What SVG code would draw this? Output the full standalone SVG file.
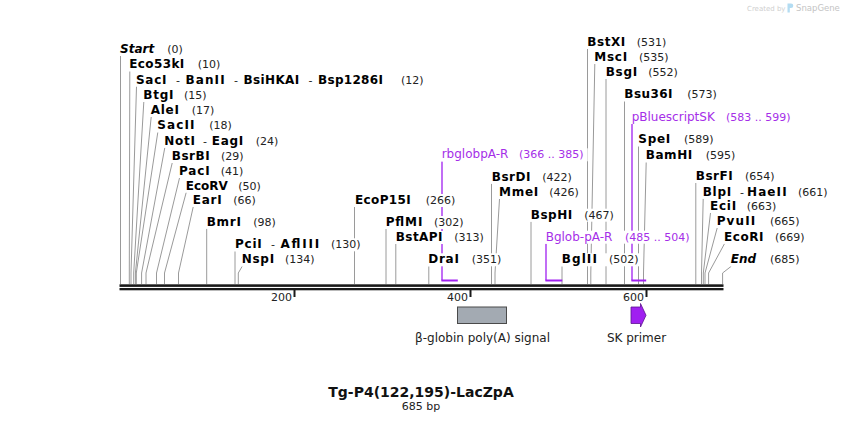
<svg xmlns="http://www.w3.org/2000/svg" width="844" height="423" viewBox="0 0 844 423">
<style>
text { font-family: "DejaVu Sans", Verdana, sans-serif; }
.n { font-weight: bold; font-size: 12px; fill: #000; }
.it { font-style: italic; }
.num { font-weight: normal; font-size: 11px; fill: #222; }
.sep { font-weight: normal; font-size: 11px; fill: #222; }
.p { font-weight: normal; font-size: 12px; fill: #a52ee8; }
.pn { font-weight: normal; font-size: 11px; fill: #a52ee8; }
.bg { fill: #fff; }
.ln { fill: none; stroke: #9a9a9a; stroke-width: 1; }
.pl { fill: none; stroke: #a020f0; stroke-width: 1.3; }
.ph { fill: none; stroke: #a020f0; stroke-width: 2; }
.tk { font-size: 11px; fill: #222; text-anchor: end; }
.fl { font-size: 12px; fill: #222; text-anchor: middle; }
</style>
<rect width="844" height="423" fill="#fff"/>
<g id="watermark">
<text x="747" y="10.5" style="font-size:7px;fill:#cfcfcf">Created by</text>
<path d="M787.5,3.5 h3.5 a2.3,2.3 0 0 1 0,4.6 h-1.2 v4.5 h-2.3 z" fill="#b3dcf2"/>
<text x="796" y="11" style="font-size:8.5px;fill:#c4c4c4">SnapGene</text>
</g>
<g id="connectors">
<polyline class="ln" points="120.5,284 120.5,56"/>
<polyline class="ln" points="129.3,284 129.3,273 129.8,71.3"/>
<polyline class="ln" points="131,284 131,273 136.5,86.5"/>
<polyline class="ln" points="133.7,284 133.7,273 143.8,102"/>
<polyline class="ln" points="135.4,284 135.4,273 151.2,117"/>
<polyline class="ln" points="136.3,284 136.3,273 157.8,132.3"/>
<polyline class="ln" points="141.6,284 141.6,273 164.8,147.7"/>
<polyline class="ln" points="146,284 146,273 172.2,163"/>
<polyline class="ln" points="156.5,284 156.5,273 179.5,178"/>
<polyline class="ln" points="164.5,284 164.5,273 186.2,192.5"/>
<polyline class="ln" points="178.5,284 178.5,273 193.2,207"/>
<polyline class="ln" points="206.7,284 206.7,228.7"/>
<polyline class="ln" points="235,284 235,251.3"/>
<polyline class="ln" points="238.3,284 238.3,273 242.2,266.3"/>
<polyline class="ln" points="354.5,284 354.5,207"/>
<polyline class="ln" points="386,284 386,229"/>
<polyline class="ln" points="395.8,284 395.8,244"/>
<polyline class="ln" points="428.8,284 428.8,266.3"/>
<polyline class="ln" points="491.5,284 491.5,183.7"/>
<polyline class="ln" points="495,284 495,273 499.5,199"/>
<polyline class="ln" points="531,284 531,221.7"/>
<polyline class="ln" points="562,284 562,266.3"/>
<polyline class="ln" points="587.5,284 587.5,49"/>
<polyline class="ln" points="590.8,284 590.8,273 594.8,64"/>
<polyline class="ln" points="606,284 606,79"/>
<polyline class="ln" points="624.5,284 624.5,101.3"/>
<polyline class="ln" points="638.5,284 638.5,146.3"/>
<polyline class="ln" points="643.5,284 643.5,273 646.2,162.3"/>
<polyline class="ln" points="695.8,284 695.8,183"/>
<polyline class="ln" points="701.5,284 701.5,273 703.2,198.7"/>
<polyline class="ln" points="703.3,284 703.3,273 710.5,213"/>
<polyline class="ln" points="705,284 705,273 717.2,228"/>
<polyline class="ln" points="708.6,284 708.6,273 724.5,243.7"/>
<polyline class="ln" points="722.6,284 722.6,273 731.2,266.3"/>
<polyline class="pl" points="442,161.5 442,280.5"/>
<polyline class="ph" points="441.4,280.5 457.8,280.5"/>
<polyline class="pl" points="546,243.7 546,280.5"/>
<polyline class="ph" points="545.4,280.5 562.3,280.5"/>
<polyline class="pl" points="632,124 632,280.5"/>
<polyline class="ph" points="631.4,280.5 646.2,280.5"/>
</g>
<g id="backbone">
<rect x="119.5" y="284.3" width="604" height="2.6" fill="#1a1a1a"/>
<rect x="119.5" y="288" width="604" height="2.3" fill="#1a1a1a"/>
<rect x="293.5" y="289" width="2" height="8" fill="#1a1a1a"/>
<rect x="469.5" y="289" width="2" height="8" fill="#1a1a1a"/>
<rect x="645.5" y="289" width="2" height="8" fill="#1a1a1a"/>
<text class="tk" x="292" y="301">200</text>
<text class="tk" x="468" y="301">400</text>
<text class="tk" x="644" y="301">600</text>
</g>
<g id="site-Start"><rect class="bg" x="119" y="43" width="67" height="13"/><text class="n it" x="120" y="53">Start</text><text class="num" x="167.3" y="53">(0)</text></g>
<g id="site-Eco53kI"><rect class="bg" x="128.3" y="58.3" width="95" height="13"/><text class="n" x="129.3" y="68.3" textLength="54.9" lengthAdjust="spacing">Eco53kI</text><text class="num" x="197.7" y="68.3">(10)</text></g>
<g id="site-SacI"><rect class="bg" x="135" y="73.5" width="292" height="13"/>
<text class="n" x="136" y="83.5" textLength="30.5" lengthAdjust="spacing">SacI</text>
<text class="sep" x="176" y="83.5">-</text>
<text class="n" x="185.5" y="83.5" textLength="39.1" lengthAdjust="spacing">BanII</text>
<text class="sep" x="234" y="83.5">-</text>
<text class="n" x="243.5" y="83.5" textLength="55.7" lengthAdjust="spacing">BsiHKAI</text>
<text class="sep" x="308.5" y="83.5">-</text>
<text class="n" x="318" y="83.5" textLength="64.9" lengthAdjust="spacing">Bsp1286I</text>
<text class="num" x="401" y="83.5">(12)</text></g>
<g id="site-BtgI"><rect class="bg" x="142.3" y="89" width="68" height="13"/><text class="n" x="143.3" y="99" textLength="30.1" lengthAdjust="spacing">BtgI</text><text class="num" x="184" y="99">(15)</text></g>
<g id="site-AleI"><rect class="bg" x="149.7" y="104" width="68" height="13"/><text class="n" x="150.7" y="114" textLength="28.2" lengthAdjust="spacing">AleI</text><text class="num" x="191.7" y="114">(17)</text></g>
<g id="site-SacII"><rect class="bg" x="156.3" y="119.3" width="79" height="13"/><text class="n" x="157.3" y="129.3" textLength="37.2" lengthAdjust="spacing">SacII</text><text class="num" x="209.3" y="129.3">(18)</text></g>
<g id="site-NotI"><rect class="bg" x="163.3" y="134.7" width="118" height="13"/>
<text class="n" x="164.3" y="144.7" textLength="30.7" lengthAdjust="spacing">NotI</text>
<text class="sep" x="203" y="144.7">-</text>
<text class="n" x="211.7" y="144.7" textLength="31.6" lengthAdjust="spacing">EagI</text>
<text class="num" x="255.7" y="144.7">(24)</text></g>
<g id="site-BsrBI"><rect class="bg" x="170.7" y="150" width="76" height="13"/><text class="n" x="171.7" y="160" textLength="38" lengthAdjust="spacing">BsrBI</text><text class="num" x="221" y="160">(29)</text></g>
<g id="site-PacI"><rect class="bg" x="178" y="165" width="68" height="13"/><text class="n" x="179" y="175" textLength="30.7" lengthAdjust="spacing">PacI</text><text class="num" x="220.7" y="175">(41)</text></g>
<g id="site-EcoRV"><rect class="bg" x="184.7" y="179.5" width="79" height="13"/><text class="n" x="185.7" y="189.5">EcoRV</text><text class="num" x="238.3" y="189.5">(50)</text></g>
<g id="site-EarI"><rect class="bg" x="191.7" y="194" width="67" height="13"/><text class="n" x="192.7" y="204" textLength="28.9" lengthAdjust="spacing">EarI</text><text class="num" x="233.3" y="204">(66)</text></g>
<g id="site-BmrI"><rect class="bg" x="205.7" y="215.7" width="73" height="13"/><text class="n" x="206.7" y="225.7" textLength="34.2" lengthAdjust="spacing">BmrI</text><text class="num" x="253.3" y="225.7">(98)</text></g>
<g id="site-PciI"><rect class="bg" x="234" y="238.3" width="130" height="13"/>
<text class="n" x="235" y="248.3" textLength="26.7" lengthAdjust="spacing">PciI</text>
<text class="sep" x="271" y="248.3">-</text>
<text class="n" x="280.5" y="248.3" textLength="38.6" lengthAdjust="spacing">AflIII</text>
<text class="num" x="331" y="248.3">(130)</text></g>
<g id="site-NspI"><rect class="bg" x="240.7" y="253.3" width="77" height="13"/><text class="n" x="241.7" y="263.3" textLength="32.4" lengthAdjust="spacing">NspI</text><text class="num" x="285" y="263.3">(134)</text></g>
<g id="site-EcoP15I"><rect class="bg" x="354" y="194" width="104" height="13"/><text class="n" x="355" y="204" textLength="55.7" lengthAdjust="spacing">EcoP15I</text><text class="num" x="425.7" y="204">(266)</text></g>
<g id="site-PflMI"><rect class="bg" x="384.7" y="216" width="82" height="13"/><text class="n" x="385.7" y="226" textLength="36.7" lengthAdjust="spacing">PflMI</text><text class="num" x="434" y="226">(302)</text></g>
<g id="site-BstAPI"><rect class="bg" x="394.7" y="231" width="92" height="13"/><text class="n" x="395.7" y="241" textLength="46.8" lengthAdjust="spacing">BstAPI</text><text class="num" x="454.3" y="241">(313)</text></g>
<g id="site-DraI"><rect class="bg" x="427.3" y="253.3" width="77" height="13"/><text class="n" x="428.3" y="263.3" textLength="30.6" lengthAdjust="spacing">DraI</text><text class="num" x="471.7" y="263.3">(351)</text></g>
<g id="primer-rbglobpA-R"><rect class="bg" x="440.7" y="148.3" width="147" height="13"/><text class="p" x="441.7" y="158.3">rbglobpA-R</text><text class="pn" x="519" y="158.3">(366 .. 385)</text></g>
<g id="site-BsrDI"><rect class="bg" x="490.7" y="170.7" width="84" height="13"/><text class="n" x="491.7" y="180.7" textLength="38.8" lengthAdjust="spacing">BsrDI</text><text class="num" x="542.3" y="180.7">(422)</text></g>
<g id="site-MmeI"><rect class="bg" x="498" y="186" width="84" height="13"/><text class="n" x="499" y="196" textLength="39.2" lengthAdjust="spacing">MmeI</text><text class="num" x="549.3" y="196">(426)</text></g>
<g id="site-BspHI"><rect class="bg" x="529.7" y="208.7" width="87" height="13"/><text class="n" x="530.7" y="218.7" textLength="41.6" lengthAdjust="spacing">BspHI</text><text class="num" x="584.3" y="218.7">(467)</text></g>
<g id="primer-Bglob-pA-R"><rect class="bg" x="544.7" y="230.7" width="148" height="13"/><text class="p" x="545.7" y="240.7">Bglob-pA-R</text><text class="pn" x="625" y="240.7">(485 .. 504)</text></g>
<g id="site-BglII"><rect class="bg" x="560.7" y="253.3" width="81" height="13"/><text class="n" x="561.7" y="263.3" textLength="35.2" lengthAdjust="spacing">BglII</text><text class="num" x="609" y="263.3">(502)</text></g>
<g id="site-BstXI"><rect class="bg" x="586.3" y="36" width="83" height="13"/><text class="n" x="587.3" y="46" textLength="37.9" lengthAdjust="spacing">BstXI</text><text class="num" x="636.7" y="46">(531)</text></g>
<g id="site-MscI"><rect class="bg" x="593.3" y="51" width="78" height="13"/><text class="n" x="594.3" y="61" textLength="32.9" lengthAdjust="spacing">MscI</text><text class="num" x="639" y="61">(535)</text></g>
<g id="site-BsgI"><rect class="bg" x="604.7" y="66" width="76" height="13"/><text class="n" x="605.7" y="76" textLength="31.5" lengthAdjust="spacing">BsgI</text><text class="num" x="648.3" y="76">(552)</text></g>
<g id="site-Bsu36I"><rect class="bg" x="623.3" y="88.3" width="96" height="13"/><text class="n" x="624.3" y="98.3" textLength="48.2" lengthAdjust="spacing">Bsu36I</text><text class="num" x="687.3" y="98.3">(573)</text></g>
<g id="primer-pBluescriptSK"><rect class="bg" x="630.7" y="111" width="162" height="13"/><text class="p" x="631.7" y="121">pBluescriptSK</text><text class="pn" x="726" y="121">(583 .. 599)</text></g>
<g id="site-SpeI"><rect class="bg" x="637.3" y="133.3" width="79" height="13"/><text class="n" x="638.3" y="143.3" textLength="32" lengthAdjust="spacing">SpeI</text><text class="num" x="684" y="143.3">(589)</text></g>
<g id="site-BamHI"><rect class="bg" x="644.7" y="149.3" width="93" height="13"/><text class="n" x="645.7" y="159.3" textLength="46.5" lengthAdjust="spacing">BamHI</text><text class="num" x="705.7" y="159.3">(595)</text></g>
<g id="site-BsrFI"><rect class="bg" x="694.7" y="170" width="83" height="13"/><text class="n" x="695.7" y="180" textLength="37.1" lengthAdjust="spacing">BsrFI</text><text class="num" x="745" y="180">(654)</text></g>
<g id="site-BlpI"><rect class="bg" x="701.7" y="185.7" width="129" height="13"/>
<text class="n" x="702.7" y="195.7" textLength="28.5" lengthAdjust="spacing">BlpI</text>
<text class="sep" x="740" y="195.7">-</text>
<text class="n" x="747" y="195.7" textLength="39.6" lengthAdjust="spacing">HaeII</text>
<text class="num" x="798" y="195.7">(661)</text></g>
<g id="site-EciI"><rect class="bg" x="709" y="200" width="70" height="13"/><text class="n" x="710" y="210" textLength="26.1" lengthAdjust="spacing">EciI</text><text class="num" x="746.7" y="210">(663)</text></g>
<g id="site-PvuII"><rect class="bg" x="715.7" y="215" width="87" height="13"/><text class="n" x="716.7" y="225" textLength="38.5" lengthAdjust="spacing">PvuII</text><text class="num" x="770" y="225">(665)</text></g>
<g id="site-EcoRI"><rect class="bg" x="723" y="230.7" width="84" height="13"/><text class="n" x="724" y="240.7" textLength="39.5" lengthAdjust="spacing">EcoRI</text><text class="num" x="775" y="240.7">(669)</text></g>
<g id="site-End"><rect class="bg" x="729.7" y="253.3" width="72" height="13"/><text class="n it" x="730.7" y="263.3">End</text><text class="num" x="770" y="263.3">(685)</text></g>
<g id="feature-polyA">
<rect x="457.5" y="307" width="49" height="16.5" fill="#a3aab2" stroke="#4a4a4a" stroke-width="1"/>
<text class="fl" x="482.5" y="341.5">β-globin poly(A) signal</text>
</g>
<g id="feature-SKprimer">
<polygon points="631,307 640.5,307 640.5,303.5 646,315.3 640.5,327 640.5,323.5 631,323.5" fill="#a020f0" stroke="#5c1190" stroke-width="0.8"/>
<text class="fl" x="636.5" y="341.5">SK primer</text>
</g>
<g id="title">
<text x="421" y="397" style="font-weight:bold;font-size:14px;fill:#111;text-anchor:middle">Tg-P4(122,195)-LacZpA</text>
<text x="421" y="410" style="font-size:11px;fill:#222;text-anchor:middle">685 bp</text>
</g>
</svg>
